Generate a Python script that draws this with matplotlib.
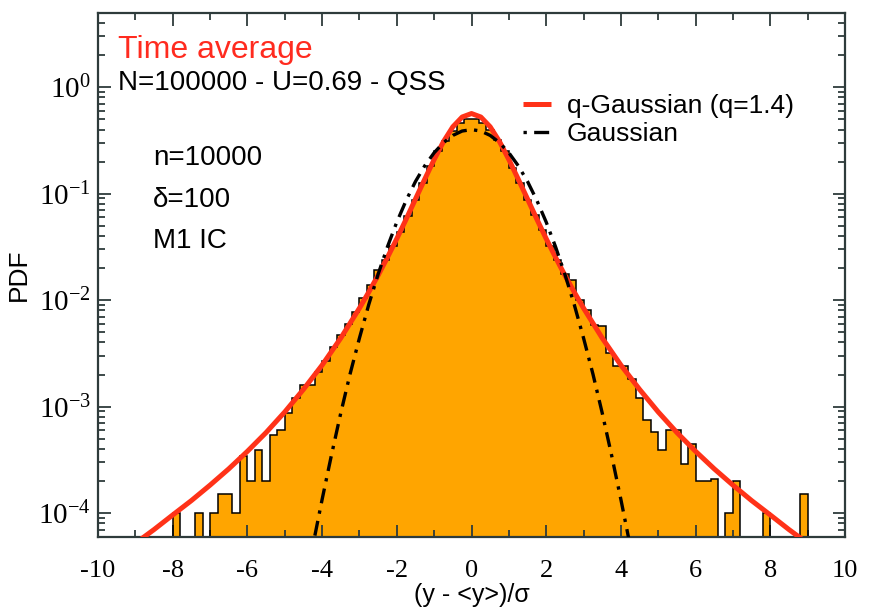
import numpy as np
import matplotlib
matplotlib.use("Agg")
import matplotlib.pyplot as plt
from matplotlib.ticker import MultipleLocator, LogLocator, FuncFormatter, NullFormatter

# histogram of the time-averaged PDF, bins of width 0.2 from -8 to 9
bin_lo, bin_hi = -8.0, 9.0
pdf_values = [
    1.0e-4, 0, 0, 1.0e-4, 0, 1.0e-4, 1.5e-4, 1.5e-4, 1.0e-4, 3.4e-4,
    2.0e-4, 3.9e-4, 2.0e-4, 5.4e-4, 6.0e-4, 8.7e-4, 1.2e-3, 1.6e-3, 1.6e-3, 2.1e-3,
    2.7e-3, 3.6e-3, 4.7e-3, 6.0e-3, 7.8e-3, 1.05e-2, 1.4e-2, 1.9e-2, 2.4e-2, 3.2e-2,
    4.4e-2, 6.2e-2, 8.8e-2, 0.125, 0.18, 0.25, 0.31, 0.39, 0.46, 0.50,
    0.50, 0.46, 0.40, 0.32, 0.25, 0.175, 0.125, 0.087, 0.063, 0.046,
    0.032, 0.024, 0.0175, 0.0154, 0.0100, 8.1e-3, 5.9e-3, 5.7e-3, 3.2e-3, 2.4e-3,
    2.4e-3, 1.8e-3, 1.2e-3, 7.5e-4, 5.8e-4, 3.9e-4, 6.0e-4, 6.0e-4, 2.9e-4, 4.5e-4,
    2.0e-4, 2.0e-4, 2.1e-4, 0, 1.0e-4, 2.0e-4, 0, 0, 0, 1.0e-4,
    0, 0, 0, 0, 1.5e-4,
]

# q-Gaussian fit (q=1.4)
qg_x = [-9.0, -8.5, -8.0, -7.5, -7.0, -6.5, -6.0, -5.5, -5.0, -4.5, -4.0, -3.5,
        -3.0, -2.75, -2.5, -2.25, -2.0, -1.75, -1.5, -1.25, -1.0, -0.75, -0.5, -0.25,
        0.0, 0.25, 0.5, 0.75, 1.0, 1.25, 1.5, 1.75, 2.0, 2.25, 2.5, 2.75,
        3.0, 3.5, 4.0, 4.5, 5.0, 5.5, 6.0, 6.5, 7.0, 7.5, 8.0, 8.5, 9.0]
qg_y = [5.2e-5, 7.0e-5, 9.6e-5, 1.31e-4, 1.83e-4, 2.6e-4, 3.8e-4, 5.7e-4, 8.9e-4, 1.45e-3, 2.45e-3, 4.4e-3,
        8.4e-3, 1.19e-2, 1.71e-2, 2.52e-2, 3.77e-2, 5.75e-2, 8.9e-2, 0.137, 0.209, 0.308, 0.424, 0.524,
        0.565, 0.524, 0.424, 0.308, 0.209, 0.137, 8.9e-2, 5.75e-2, 3.77e-2, 2.52e-2, 1.71e-2, 1.19e-2,
        8.4e-3, 4.4e-3, 2.45e-3, 1.45e-3, 8.9e-4, 5.7e-4, 3.8e-4, 2.6e-4, 1.83e-4, 1.31e-4, 9.6e-5, 7.0e-5, 5.2e-5]

# Gaussian
g_x = [-4.25, -4.0, -3.75, -3.5, -3.25, -3.0, -2.75, -2.5, -2.25, -2.0, -1.75, -1.5, -1.25, -1.0,
       -0.75, -0.5, -0.25, 0.0, 0.25, 0.5, 0.75, 1.0, 1.25, 1.5, 1.75, 2.0, 2.25, 2.5,
       2.75, 3.0, 3.25, 3.5, 3.75, 4.0, 4.25]
g_y = [4.9e-5, 1.34e-4, 3.5e-4, 8.7e-4, 2.03e-3, 4.4e-3, 9.1e-3, 1.75e-2, 3.17e-2, 5.4e-2, 8.63e-2, 0.130, 0.183, 0.242,
       0.301, 0.352, 0.387, 0.399, 0.387, 0.352, 0.301, 0.242, 0.183, 0.130, 8.63e-2, 5.4e-2, 3.17e-2, 1.75e-2,
       9.1e-3, 4.4e-3, 2.03e-3, 8.7e-4, 3.5e-4, 1.34e-4, 4.9e-5]

plt.rcParams['font.family'] = ['Liberation Sans', 'DejaVu Sans']
plt.rcParams['mathtext.fontset'] = 'custom'
plt.rcParams['mathtext.rm'] = 'Liberation Serif'
plt.rcParams['mathtext.it'] = 'Liberation Serif:italic'
plt.rcParams['axes.unicode_minus'] = False

spine_col = '#2e3b3b'
fig = plt.figure(figsize=(8.74, 6.08), dpi=100)
ax = fig.add_axes([98 / 874, 1 - 536.7 / 608, 747 / 874, 524 / 608])

edges = np.linspace(bin_lo, bin_hi, len(pdf_values) + 1)
vals = np.array(pdf_values, dtype=float)
draw_vals = np.where(vals > 0, vals, 1e-7)
ax.stairs(draw_vals, edges, fill=True, color='#ffa500', baseline=1e-7, zorder=1)
ax.stairs(draw_vals, edges, color='black', linewidth=1.1, baseline=1e-7, zorder=2)

ax.plot(qg_x, qg_y, color='#ff3218', linewidth=3.6, label='q-Gaussian (q=1.4)', zorder=3,
        solid_capstyle='butt')
ax.plot(g_x, g_y, color='black', linewidth=2.4, linestyle=(0, (1.0, 2.2, 4.5, 2.2)),
        label='Gaussian', zorder=4)

ax.set_yscale('log')
ax.set_xlim(-10, 10)
ax.set_ylim(6e-5, 5)

ax.xaxis.set_major_locator(MultipleLocator(2))
ax.xaxis.set_minor_locator(MultipleLocator(1))
ax.yaxis.set_major_locator(LogLocator(base=10, numticks=20))
ax.yaxis.set_minor_locator(LogLocator(base=10, subs=np.arange(2, 10), numticks=20))
ax.yaxis.set_major_formatter(FuncFormatter(lambda v, p: r'$\mathrm{10^{%d}}$' % round(np.log10(v))))
ax.yaxis.set_minor_formatter(NullFormatter())
ax.xaxis.set_major_formatter(FuncFormatter(lambda v, p: '%d' % v))

ax.tick_params(which='both', direction='in', top=True, right=True, color=spine_col, width=1.3)
ax.tick_params(which='major', length=9)
ax.tick_params(which='minor', length=5)
ax.tick_params(axis='x', which='major', labelsize=19, pad=17, labelfontfamily='Liberation Serif')
ax.tick_params(axis='y', which='major', labelsize=21, pad=5)
for s in ax.spines.values():
    s.set_color(spine_col)
    s.set_linewidth(1.6)

ax.set_xlabel('(y - <y>)/σ', fontsize=18)
ax.xaxis.set_label_coords(0.5, -0.088)
ax.set_ylabel('PDF', fontsize=19)
ax.yaxis.set_label_coords(-0.09, 0.5)

ax.text(0.027, 0.913, 'Time average', transform=ax.transAxes, color='#ff2b1f',
        fontsize=23, va='baseline')
ax.text(0.027, 0.852, 'N=100000 - U=0.69 - QSS', transform=ax.transAxes,
        fontsize=20, va='baseline')
ax.text(0.074, 0.709, 'n=10000', transform=ax.transAxes, fontsize=20, va='baseline')
ax.text(0.074, 0.630, 'δ=100', transform=ax.transAxes, fontsize=20, va='baseline')
ax.text(0.074, 0.550, 'M1 IC', transform=ax.transAxes, fontsize=20, va='baseline')

ax.legend(loc='upper left', bbox_to_anchor=(0.555, 0.865), frameon=False, fontsize=19,
          handlelength=1.05, handletextpad=0.6, labelspacing=0.15, borderaxespad=0)

fig.savefig('out.png', dpi=100)
